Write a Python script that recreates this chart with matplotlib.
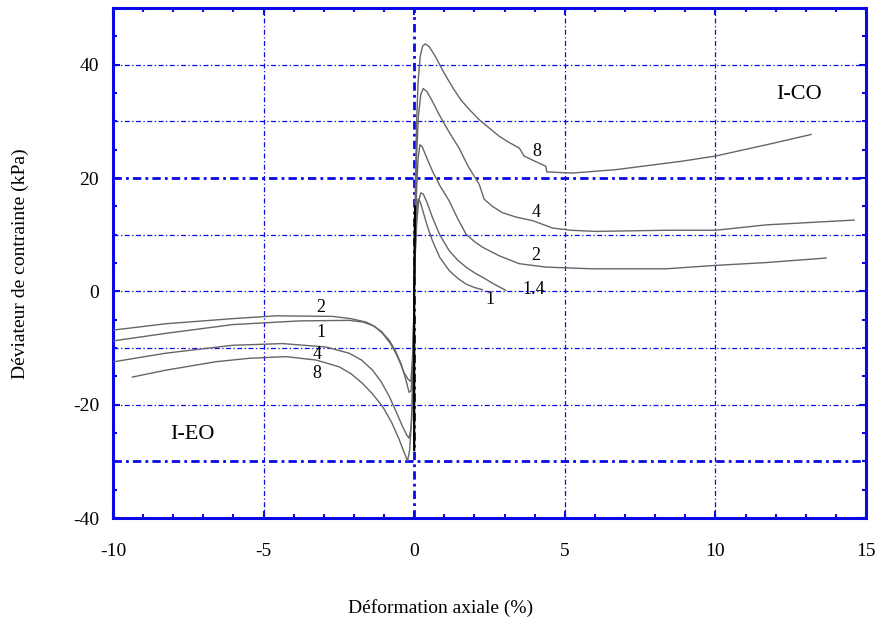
import matplotlib.pyplot as plt
from matplotlib.ticker import MultipleLocator

plt.rcParams['font.family'] = ['Liberation Serif', 'DejaVu Serif']
plt.rcParams['axes.unicode_minus'] = False

# compression curves (I-CO), x = axial strain (%), y = deviator stress (kPa)
c8_x = [0, 0.04, 0.08, 0.13, 0.2, 0.28, 0.37, 0.5, 0.7, 1.0, 1.3, 1.55, 1.85, 2.16, 2.5, 2.82, 3.15, 3.49, 3.65, 4.0, 4.37, 4.4, 5.25, 6.7, 8.9, 10.0, 11.7, 13.17]
c8_y = [0, 18, 30, 37, 41.5, 43.3, 43.7, 43.2, 41.5, 38.5, 35.8, 33.8, 32.0, 30.3, 28.8, 27.4, 26.3, 25.3, 23.9, 23.0, 22.1, 21.1, 20.9, 21.5, 23.0, 23.9, 25.9, 27.7]
c4_x = [0, 0.04, 0.08, 0.14, 0.22, 0.3, 0.42, 0.6, 0.83, 1.15, 1.49, 1.8, 2.16, 2.32, 2.6, 2.93, 3.4, 3.93, 4.59, 5.2, 6.03, 8.36, 10.0, 11.68, 14.6]
c4_y = [0, 14, 24, 31, 34.8, 35.8, 35.3, 33.6, 31.2, 28.2, 25.3, 22.0, 18.9, 16.3, 15.0, 13.9, 13.1, 12.5, 11.2, 10.8, 10.6, 10.8, 10.8, 11.75, 12.6]
c2_x = [0, 0.04, 0.08, 0.13, 0.19, 0.27, 0.4, 0.61, 0.85, 1.16, 1.45, 1.72, 2.0, 2.27, 2.82, 3.49, 4.37, 5.92, 8.36, 10.0, 11.68, 13.67]
c2_y = [0, 10, 18, 23.5, 25.9, 25.5, 23.8, 21.2, 18.7, 16.0, 12.8, 10.1, 8.8, 7.8, 6.3, 4.9, 4.3, 4.0, 4.0, 4.6, 5.1, 5.9]
c14_x = [0, 0.04, 0.09, 0.15, 0.22, 0.3, 0.42, 0.61, 0.85, 1.16, 1.45, 1.72, 2.0, 2.27, 2.65, 3.04]
c14_y = [0, 7, 12.5, 16, 17.4, 17.2, 15.8, 13.0, 10.0, 7.2, 5.5, 4.3, 3.3, 2.5, 1.3, 0.2]
c1_x = [0, 0.03, 0.06, 0.1, 0.13, 0.2, 0.3, 0.45, 0.61, 0.85, 1.16, 1.45, 1.72, 2.0, 2.27]
c1_y = [0, 6, 11, 15, 16.3, 15.8, 14.0, 11.3, 8.9, 6.0, 3.7, 2.3, 1.3, 0.7, 0.3]

# extension curves (I-EO)
e2_x = [-9.96, -8.25, -6.03, -4.59, -2.71, -2.1, -1.6, -1.3, -1.05, -0.8, -0.61, -0.45, -0.33, -0.2, -0.11, -0.06, -0.02, 0]
e2_y = [-6.8, -5.7, -4.8, -4.3, -4.4, -4.8, -5.4, -6.2, -7.4, -9.1, -10.9, -12.8, -14.4, -15.5, -15.9, -12, -6, 0]
e1_x = [-9.96, -8.25, -6.03, -3.82, -2.16, -1.7, -1.38, -1.1, -0.83, -0.62, -0.44, -0.28, -0.17, -0.1, -0.05, -0.02, 0]
e1_y = [-8.7, -7.4, -5.85, -5.2, -5.1, -5.4, -6.0, -7.0, -8.6, -10.5, -12.7, -15.5, -17.8, -17.5, -13, -6, 0]
e4_x = [-9.96, -8.25, -6.03, -4.37, -2.93, -2.16, -1.75, -1.38, -1.1, -0.83, -0.6, -0.39, -0.25, -0.17, -0.1, -0.05, -0.02, 0]
e4_y = [-12.4, -10.9, -9.5, -9.2, -9.8, -10.9, -12.1, -13.9, -15.9, -18.5, -21.2, -23.8, -25.3, -25.9, -24, -18, -8, 0]
e8_x = [-9.35, -8.25, -6.58, -5.48, -4.26, -3.26, -2.49, -2.1, -1.72, -1.38, -1.05, -0.75, -0.5, -0.35, -0.22, -0.15, -0.08, -0.03, 0]
e8_y = [-15.1, -13.9, -12.4, -11.8, -11.5, -12.1, -13.3, -14.5, -16.2, -18.1, -20.3, -23.1, -26.1, -28.2, -29.9, -28, -22, -10, 0]

curve_labels = ['8', '4', '2', '1.4', '1', '2', '1', '4', '8']
label_x = [4.08, 4.05, 4.05, 3.98, 2.52, -3.09, -3.09, -3.22, -3.22]
label_y = [24.7, 14.0, 6.3, 0.35, -1.4, -2.8, -7.2, -11.2, -14.4]

blue = '#0a0ae6'
fig = plt.figure(figsize=(8.82, 6.28), dpi=100)
ax = fig.add_axes([0.128, 0.175, 0.854, 0.812])

# grid: dash-dot blue lines, a few drawn heavier as in the original
thin = (0, (4, 2, 1, 2))
heavy = (0, (3, 1.5, 1, 1.5))
for gx in [-5, 5, 10]:
    ax.axvline(gx, color=blue, lw=0.9, ls=thin, zorder=1)
ax.axvline(0, color=blue, lw=2.0, ls=heavy, zorder=1)
for gy in [-30, -20, -10, 0, 10, 20, 30, 40]:
    bold = gy in (20, -30)
    ax.axhline(gy, color=blue, lw=2.0 if bold else 0.9, ls=heavy if bold else thin, zorder=1)

for xs, ys in [(c8_x, c8_y), (c4_x, c4_y), (c2_x, c2_y), (c14_x, c14_y), (c1_x, c1_y),
               (e2_x, e2_y), (e1_x, e1_y), (e4_x, e4_y), (e8_x, e8_y)]:
    ax.plot(xs, ys, color='#666666', lw=1.0, zorder=3)
# initial near-vertical loading branch
ax.plot([0, 0, 0.03], [-28, 0, 15], color='black', lw=1.6, zorder=4)

for t, lx, ly in zip(curve_labels, label_x, label_y):
    ax.text(lx, ly, t, fontsize=13, ha='center', va='center', zorder=5)

ax.text(12.78, 34.7, 'I-CO', fontsize=16, ha='center', va='center')
ax.text(-7.37, -25.3, 'I-EO', fontsize=16, ha='center', va='center')

ax.set_xlim(-10, 15)
ax.set_ylim(-40, 50)
ax.set_xticks([-10, -5, 0, 5, 10, 15])
ax.set_yticks([-40, -20, 0, 20, 40])
ax.xaxis.set_minor_locator(MultipleLocator(1))
ax.yaxis.set_minor_locator(MultipleLocator(5))
ax.tick_params(which='both', direction='in', top=True, right=True, color=blue, width=1.5, labelsize=14)
ax.tick_params(axis='x', which='major', pad=18)
ax.tick_params(axis='y', which='major', pad=10)
ax.tick_params(which='major', length=5)
ax.tick_params(which='minor', length=3)
for s in ax.spines.values():
    s.set_color(blue)
    s.set_linewidth(2.2)

fig.text(0.5, 0.032, 'Déformation axiale (%)', fontsize=14, ha='center', va='center')
fig.text(0.023, 0.58, 'Déviateur de contrainte (kPa)', fontsize=14, rotation=90, ha='center', va='center')

fig.savefig('out.png', dpi=100)
